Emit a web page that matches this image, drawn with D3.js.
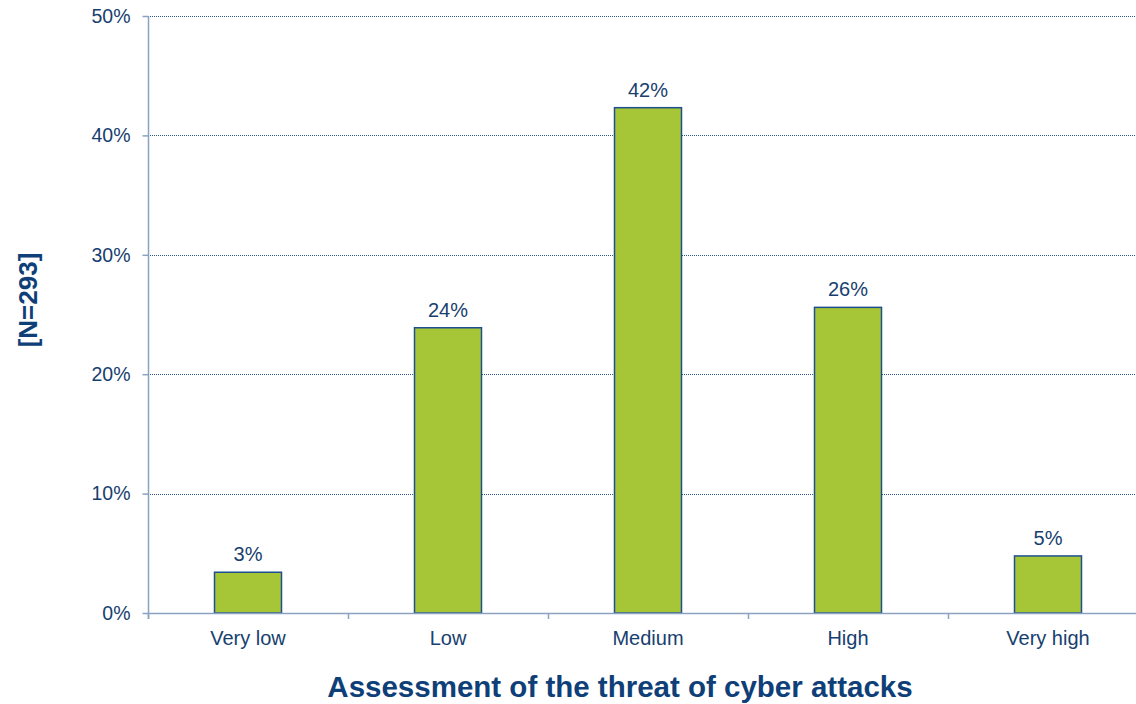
<!DOCTYPE html>
<html>
<head>
<meta charset="utf-8">
<script src="https://cdn.jsdelivr.net/npm/d3@7"></script>
<style>
  html, body { margin: 0; padding: 0; background: #fff; }
  svg { display: block; font-family: "Liberation Sans", Arial, sans-serif; }
</style>
</head>
<body>
<svg id="chart" width="1136" height="704"></svg>
<script>
// Survey responses (number of respondents per threat level)
const categories = ["Very low", "Low", "Medium", "High", "Very high"];
const counts = [10, 70, 124, 75, 14];
const totalN = 293;
const yTicks = [0, 0.1, 0.2, 0.3, 0.4, 0.5];

const shares = counts.map(c => c / totalN);

const textColor = "#17406f";
const axisColor = "#8aa3c1";
const svg = d3.select("#chart");

const margin = { left: 148, top: 16, bottom: 91 };
const plotW = 1000;
const plotH = 704 - margin.top - margin.bottom;

const x = d3.scaleBand().domain(categories).range([margin.left, margin.left + plotW]).paddingInner(0.665).paddingOuter(0.3325);
const y = d3.scaleLinear().domain([0, 0.5]).range([margin.top + plotH, margin.top]);

// Dotted horizontal gridlines
svg.append("g")
  .selectAll("line")
  .data(yTicks.filter(t => t > 0))
  .join("line")
  .attr("x1", margin.left)
  .attr("x2", 1136)
  .attr("y1", d => Math.round(y(d)) + 0.5)
  .attr("y2", d => Math.round(y(d)) + 0.5)
  .attr("stroke", "#2a568c")
  .attr("stroke-width", 1)
  .attr("stroke-dasharray", "1,1");

// Bars
svg.append("g")
  .selectAll("rect")
  .data(categories)
  .join("rect")
  .attr("x", d => x(d))
  .attr("y", (d, i) => y(shares[i]))
  .attr("width", x.bandwidth())
  .attr("height", (d, i) => y(0) - y(shares[i]))
  .attr("fill", "#a6c638")
  .attr("stroke", "#1d4f8f")
  .attr("stroke-width", 1.5);

// Value labels
const pct = d3.format(".0%");
svg.append("g")
  .selectAll("text")
  .data(categories)
  .join("text")
  .attr("x", d => x(d) + x.bandwidth() / 2)
  .attr("y", (d, i) => y(shares[i]) - 11)
  .attr("text-anchor", "middle")
  .attr("font-size", 20)
  .attr("fill", textColor)
  .text((d, i) => pct(shares[i]));

// Y axis
const yAxis = svg.append("g")
  .attr("transform", `translate(${margin.left + 0.5},0)`)
  .call(d3.axisLeft(y).tickValues(yTicks).tickFormat(d3.format(".0%")).tickSize(6).tickPadding(12));
yAxis.select(".domain").attr("stroke", axisColor).attr("stroke-width", 1.5).attr("d", `M0,${margin.top}V${y(0) + 6}`);
yAxis.selectAll(".tick line").attr("stroke", axisColor).attr("stroke-width", 1.5);
yAxis.selectAll(".tick text").attr("font-size", 19.5).attr("fill", textColor).attr("font-family", "Liberation Sans, Arial, sans-serif");

// X axis baseline with ticks at category boundaries
const xAxis = svg.append("g");
xAxis.append("line")
  .attr("x1", margin.left).attr("x2", 1136)
  .attr("y1", y(0) + 0.5).attr("y2", y(0) + 0.5)
  .attr("stroke", axisColor).attr("stroke-width", 1.5);
xAxis.selectAll("line.tk")
  .data(d3.range(categories.length))
  .join("line")
  .attr("class", "tk")
  .attr("x1", i => margin.left + i * (plotW / categories.length) + 0.5)
  .attr("x2", i => margin.left + i * (plotW / categories.length) + 0.5)
  .attr("y1", y(0))
  .attr("y2", y(0) + 6)
  .attr("stroke", axisColor).attr("stroke-width", 1.5);
xAxis.selectAll("text")
  .data(categories)
  .join("text")
  .attr("x", d => x(d) + x.bandwidth() / 2)
  .attr("y", y(0) + 32)
  .attr("text-anchor", "middle")
  .attr("font-size", 20)
  .attr("fill", textColor)
  .text(d => d);

// Axis titles
svg.append("text")
  .attr("x", 620)
  .attr("y", 697)
  .attr("text-anchor", "middle")
  .attr("font-size", 29.5)
  .attr("font-weight", "bold")
  .attr("fill", "#0f3f78")
  .text("Assessment of the threat of cyber attacks");

svg.append("text")
  .attr("transform", "translate(37,300) rotate(-90)")
  .attr("text-anchor", "middle")
  .attr("font-size", 26)
  .attr("font-weight", "bold")
  .attr("fill", "#0f3f78")
  .text(`[N=${totalN}]`);
</script>
</body>
</html>
